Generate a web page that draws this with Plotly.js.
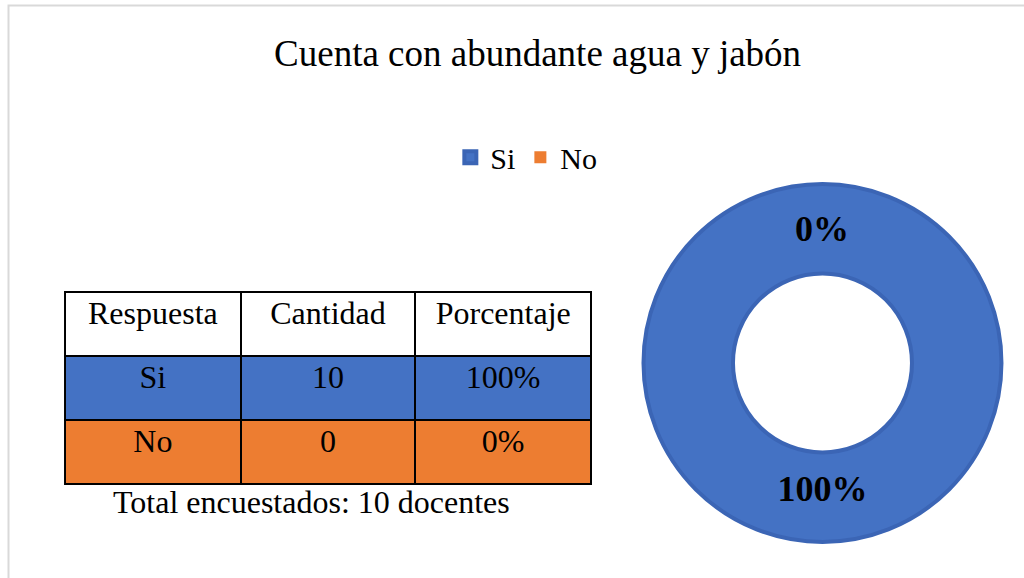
<!DOCTYPE html>
<html>
<head>
<meta charset="utf-8">
<script src="https://cdn.plot.ly/plotly-3.0.1.min.js"></script>
<style>html,body{margin:0;padding:0;background:#fff;}#chart{width:1024px;height:578px;}</style>
</head>
<body>
<div id="chart"></div>
<script>
// ---- data ----
const respuestas = ["Si", "No"];
const cantidades = [10, 0];
const porcentajes = ["100%", "0%"];
const headers = ["Respuesta", "Cantidad", "Porcentaje"];
const colors = ["#4472C4", "#ED7D31"];
const titulo = "Cuenta con abundante agua y jabón";
const totalLabel = "Total encuestados: " + cantidades.reduce((a, b) => a + b, 0) + " docentes";

const serif = "'Liberation Serif', 'Times New Roman', serif";

const pieDomain = { x: [0.6284, 0.978], y: [0.0623, 0.6817] };
const hole = 0.5;

const pie = {
  type: "pie",
  labels: respuestas,
  values: cantidades,
  sort: false,
  direction: "clockwise",
  rotation: 0,
  hole: hole,
  marker: { colors: colors, line: { color: ["#3B65B5", "#ED7D31"], width: [4, 0] } },
  texttemplate: "%{percent:.0%}",
  textposition: "inside",
  insidetextorientation: "horizontal",
  textfont: { family: serif, size: 36, color: "#000", weight: "bold" },
  domain: pieDomain,
  showlegend: true,
  hoverinfo: "label+value+percent"
};

const table = {
  type: "table",
  domain: { x: [0.0635, 0.578], y: [0.158, 0.4948] },
  columnwidth: [176, 175, 176],
  header: {
    values: headers,
    fill: { color: "#FFFFFF" },
    line: { color: "#000", width: 2 },
    font: { family: serif, size: 32, color: "#000" },
    align: "center",
    height: 64
  },
  cells: {
    values: [respuestas, cantidades.map(String), porcentajes],
    fill: { color: [colors, colors, colors] },
    line: { color: "#000", width: 2 },
    font: { family: serif, size: 32, color: "#000" },
    align: "center",
    height: 64
  }
};

// label for the zero-width slice (Plotly hides text of empty slices); placed at mid-ring, 12 o'clock
const pieCx = (pieDomain.x[0] + pieDomain.x[1]) / 2;
const pieCy = (pieDomain.y[0] + pieDomain.y[1]) / 2;
const pieRy = (pieDomain.y[1] - pieDomain.y[0]) / 2;
const zeroIdx = cantidades.indexOf(0);

const layout = {
  width: 1024,
  height: 578,
  margin: { l: 0, r: 0, t: 0, b: 0 },
  paper_bgcolor: "#FFFFFF",
  title: {
    text: titulo,
    font: { family: serif, size: 37, color: "#000" },
    x: 0.525, xanchor: "center",
    y: 0.908, yanchor: "middle", yref: "container"
  },
  legend: {
    orientation: "h",
    x: 0.514, xanchor: "center",
    y: 0.728, yanchor: "middle",
    font: { family: serif, size: 30, color: "#000" },
    itemclick: false
  },
  shapes: [{
    type: "rect", xref: "paper", yref: "paper",
    x0: 8.5 / 1024, x1: 1.05, y0: -0.05, y1: (578 - 5.5) / 578,
    line: { color: "#D9D9D9", width: 2 }, fillcolor: "rgba(0,0,0,0)", layer: "below"
  }],
  annotations: [{
    text: totalLabel,
    xref: "paper", yref: "paper",
    x: 311 / 1024, y: (578 - 502) / 578,
    xanchor: "center", yanchor: "middle",
    showarrow: false,
    font: { family: serif, size: 32, color: "#000" }
  }, {
    text: porcentajes[zeroIdx],
    xref: "paper", yref: "paper",
    x: pieCx, y: pieCy + pieRy * (1 + hole) / 2,
    xanchor: "center", yanchor: "middle",
    showarrow: false,
    font: { family: serif, size: 36, color: "#000", weight: "bold" }
  }]
};

Plotly.newPlot("chart", [table, pie], layout, { displayModeBar: false });
</script>
</body>
</html>
